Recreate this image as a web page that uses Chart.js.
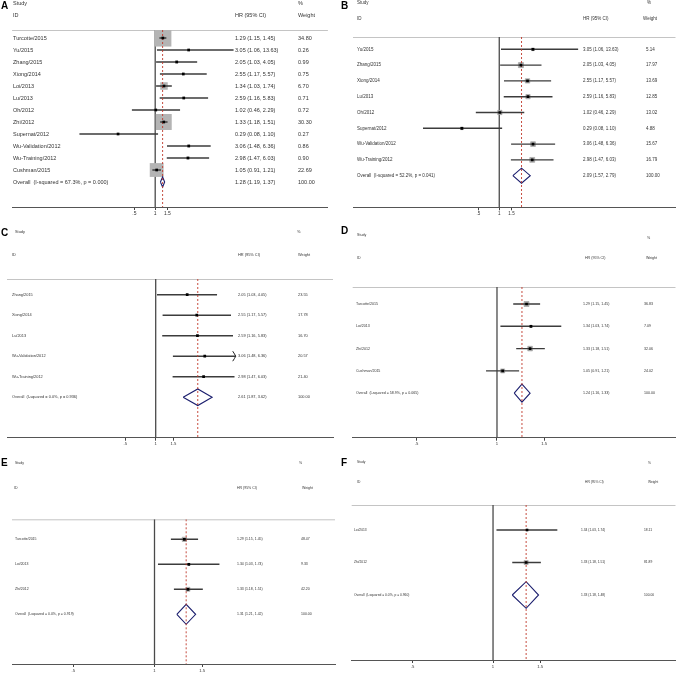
<!DOCTYPE html>
<html><head><meta charset="utf-8">
<script src="https://cdn.jsdelivr.net/npm/chart.js@4.4.1/dist/chart.umd.min.js"></script>
<style>
html,body{margin:0;padding:0;background:#fff;}
#wrap{position:relative;width:680px;height:675px;overflow:hidden;background:#fff;}
canvas{position:absolute;}
</style></head><body><div id="wrap"></div>
<script>
// ---------- DATA ----------
const tickValues = [0.5, 1, 1.5];
const tickLabels = ['.5', '1', '1.5'];

const studiesA = ['Turcotte/2015','Yu/2015','Zhang/2015','Xiong/2014','Loi/2013','Lu/2013','Oh/2012','Zhi/2012','Supernat/2012','Wu-Validation/2012','Wu-Training/2012','Cushman/2015'];
const hrA = [1.29, 3.05, 2.05, 2.55, 1.34, 2.59, 1.02, 1.33, 0.29, 3.06, 2.98, 1.05];
const loA = [1.15, 1.06, 1.03, 1.17, 1.03, 1.16, 0.46, 1.18, 0.08, 1.48, 1.47, 0.91];
const hiA = [1.45, 13.63, 4.05, 5.57, 1.74, 5.83, 2.29, 1.51, 1.10, 6.36, 6.03, 1.21];
const wtA = [34.80, 0.26, 0.99, 0.75, 6.70, 0.71, 0.72, 30.30, 0.27, 0.86, 0.90, 22.69];
const overallA = [1.28, 1.19, 1.37];
const hetA = 'I-squared = 67.3%, p = 0.000';

const studiesB = ['Yu/2015','Zhang/2015','Xiong/2014','Lu/2013','Oh/2012','Supernat/2012','Wu-Validation/2012','Wu-Training/2012'];
const hrB = [3.05, 2.05, 2.55, 2.59, 1.02, 0.29, 3.06, 2.98];
const loB = [1.06, 1.03, 1.17, 1.16, 0.46, 0.08, 1.48, 1.47];
const hiB = [13.63, 4.05, 5.57, 5.83, 2.29, 1.10, 6.36, 6.03];
const wtB = [5.14, 17.97, 13.69, 12.85, 13.02, 4.88, 15.67, 16.79];
const overallB = [2.09, 1.57, 2.79];
const hetB = 'I-squared = 52.2%, p = 0.041';

const studiesC = ['Zhang/2015','Xiong/2014','Lu/2013','Wu-Validation/2012','Wu-Training/2012'];
const hrC = [2.05, 2.55, 2.59, 3.06, 2.98];
const loC = [1.03, 1.17, 1.16, 1.48, 1.47];
const hiC = [4.05, 5.57, 5.83, 6.36, 6.03];
const wtC = [23.55, 17.78, 16.70, 20.57, 21.40];
const overallC = [2.61, 1.87, 3.62];
const hetC = 'I-squared = 0.0%, p = 0.936';

const studiesD = ['Turcotte/2015','Loi/2013','Zhi/2012','Cushman/2015'];
const hrD = [1.29, 1.34, 1.33, 1.05];
const loD = [1.15, 1.03, 1.18, 0.91];
const hiD = [1.45, 1.74, 1.51, 1.21];
const wtD = [36.83, 7.09, 32.06, 24.02];
const overallD = [1.24, 1.16, 1.33];
const hetD = 'I-squared = 58.9%, p = 0.065';

const studiesE = ['Turcotte/2015','Loi/2013','Zhi/2012'];
const hrE = [1.29, 1.34, 1.33];
const loE = [1.15, 1.03, 1.18];
const hiE = [1.45, 1.74, 1.51];
const wtE = [48.47, 9.33, 42.20];
const overallE = [1.31, 1.21, 1.42];
const hetE = 'I-squared = 0.0%, p = 0.919';

const studiesF = ['Loi/2013','Zhi/2012'];
const hrF = [1.34, 1.33];
const loF = [1.03, 1.18];
const hiF = [1.74, 1.51];
const wtF = [18.11, 81.89];
const overallF = [1.33, 1.18, 1.48];
const hetF = 'I-squared = 0.0%, p = 0.960';

// ---------- LAYOUT ----------
const FAM = '"Liberation Sans", Arial, sans-serif';
const AXIS_H = 10;
const panels = [
 {letter:'A', d:{studies:studiesA,hr:hrA,lo:loA,hi:hiA,wt:wtA,ov:overallA,het:hetA},
  left:0, top:0, w:340, h:222, area:[10,330,30,207], x1:155, dec:70, row0:38, step:12, dh:5, k:2.9,
  font:5.5, tickFont:5, cols:[13,235,298], hdr:{L:[1,6], study:[13,3], id:[13,15], hr:[235,15], pct:[298,3], wt:[298,15]}},
 {letter:'B', d:{studies:studiesB,hr:hrB,lo:loB,hi:hiB,wt:wtB,ov:overallB,het:hetB},
  left:340, top:0, w:340, h:222, area:[353,680,37,207.3], x1:501.3, dec:70.5, row0:49.3, step:15.8, dh:7.5, k:1.2,
  font:4.5, tickFont:4.5, cols:[357,583,646], hdr:{L:[341,6], study:[357,3], id:[357,19], hr:[583,19], pct:[647,3], wt:[643,19]}},
 {letter:'C', d:{studies:studiesC,hr:hrC,lo:loC,hi:hiC,wt:wtC,ov:overallC,het:hetC},
  left:0, top:222, w:340, h:228, area:[7,333,279,437.7], x1:155.7, dec:101, row0:294.7, step:20.5, dh:8.3, k:0,
  ciMax:6.2, font:3.9, tickFont:4.2, cols:[12,238,298], hdr:{L:[1,233], study:[15,232], id:[12,255], hr:[238,255], pct:[297,232], wt:[298,255]}},
 {letter:'D', d:{studies:studiesD,hr:hrD,lo:loD,hi:hiD,wt:wtD,ov:overallD,het:hetD},
  left:340, top:222, w:340, h:228, area:[352.7,680,287,437.7], x1:499, dec:271, row0:304, step:22.3, dh:9, k:0.82,
  font:3.6, tickFont:4.2, cols:[356,583,644], hdr:{L:[341,231], study:[357,235], id:[357,258], hr:[585,258], pct:[647,238], wt:[646,258]}},
 {letter:'E', d:{studies:studiesE,hr:hrE,lo:loE,hi:hiE,wt:wtE,ov:overallE,het:hetE},
  left:0, top:450, w:340, h:225, area:[12,335,519.3,664], x1:154.5, dec:270, row0:539.3, step:25, dh:10, k:0.62,
  font:3.5, tickFont:4.2, cols:[15,237,301], hdr:{L:[1,463], study:[15,463], id:[14,488.5], hr:[237,488.5], pct:[299,463], wt:[302,488.5]}},
 {letter:'F', d:{studies:studiesF,hr:hrF,lo:loF,hi:hiF,wt:wtF,ov:overallF,het:hetF},
  left:340, top:450, w:340, h:225, area:[351.7,680,505,660], x1:495, dec:271, row0:530, step:32.5, dh:13.3, k:0.45,
  font:3.3, tickFont:4.2, cols:[354,581,644], hdr:{L:[341,463], study:[357,462], id:[357,482], hr:[585,482], pct:[648,463], wt:[648,482]}}
];

const fmt = v => v.toFixed(2);
const wrap = document.getElementById('wrap');

function makePanel(p) {
  const d = p.d;
  const cv = document.createElement('canvas');
  cv.width = p.w; cv.height = p.h;
  cv.style.left = p.left + 'px'; cv.style.top = p.top + 'px';
  cv.style.width = p.w + 'px'; cv.style.height = p.h + 'px';
  wrap.appendChild(cv);
  const L = p.area[0] - p.left, R = p.area[1] - p.left, T = p.area[2] - p.top, B = p.area[3] - p.top;
  const xmin = Math.pow(10, (p.area[0] - p.x1) / p.dec);
  const xmax = Math.pow(10, (p.area[1] - p.x1) / p.dec);
  const ymin = (p.area[2] - p.row0) / p.step;
  const ymax = (p.area[3] - p.row0) / p.step;
  const n = d.studies.length;
  const ciMax = p.ciMax || Infinity;
  const dh = p.dh / p.step;

  const ci = [];
  d.lo.forEach((v, i) => { ci.push({x: v, y: i}, {x: Math.min(d.hi[i], ciMax), y: i}, {x: d.hi[i], y: null}); });

  const ds = [
    {data: [{x: 1, y: ymin}, {x: 1, y: ymax}], showLine: true, borderColor: '#4a4a4a', borderWidth: 1.3, pointRadius: 0, order: 6},
    {data: d.hr.map((v, i) => ({x: v, y: i})), showLine: false, pointStyle: 'rect',
     pointRadius: c => p.k * Math.sqrt(d.wt[c.dataIndex]) / 1.4142,
     backgroundColor: '#b4b4b4', borderColor: '#8a8a8a', borderWidth: p.k > 1.5 ? 0 : 0.5, order: 5},
    {data: ci, showLine: true, spanGaps: false, borderColor: '#3c3c3c', borderWidth: 1.4, pointRadius: 0, order: 3},
    {data: [{x: d.ov[1], y: n}, {x: d.ov[0], y: n - dh}, {x: d.ov[2], y: n}, {x: d.ov[0], y: n + dh}, {x: d.ov[1], y: n}],
     showLine: true, borderColor: '#1c1f6e', borderWidth: 1.1, pointRadius: 0, fill: false, order: 2},
    {data: [{x: d.ov[0], y: ymin}, {x: d.ov[0], y: ymax}], showLine: true, borderColor: '#c0392b', borderWidth: 0.9,
     borderDash: [2, 2], pointRadius: 0, order: 1},
    {data: d.hr.map((v, i) => ({x: v, y: i})), showLine: false, pointStyle: 'rect', pointRadius: 1.9,
     backgroundColor: '#000', borderWidth: 0, order: 0}
  ];

  const textPlugin = {
    id: 'forestText',
    beforeDatasetsDraw(chart) {
      const ctx = chart.ctx, a = chart.chartArea;
      ctx.save();
      ctx.strokeStyle = '#c4c4c4'; ctx.lineWidth = 1;
      ctx.beginPath(); ctx.moveTo(a.left, a.top + 0.5); ctx.lineTo(a.right, a.top + 0.5); ctx.stroke();
      ctx.restore();
    },
    afterDatasetsDraw(chart) {
      const ctx = chart.ctx, ys = chart.scales.y, xs = chart.scales.x;
      ctx.save();
      ctx.strokeStyle = '#222'; ctx.lineWidth = 1;
      d.hi.forEach((v, i) => {
        if (v > ciMax) {
          const x = xs.getPixelForValue(ciMax), y = ys.getPixelForValue(i);
          ctx.beginPath(); ctx.moveTo(x - 3, y - 5); ctx.quadraticCurveTo(x - 1, y - 2, x, y);
          ctx.quadraticCurveTo(x - 1, y + 2, x - 3, y + 5); ctx.stroke();
        }
      });
      ctx.textBaseline = 'middle'; ctx.textAlign = 'left';
      const ox = p.left, oy = p.top;
      const put = (s, pos, size, bold, color) => {
        ctx.fillStyle = color || '#333';
        ctx.font = (bold ? 'bold ' : '') + size + 'px ' + FAM;
        ctx.fillText(s, pos[0] - ox, pos[1] - oy);
      };
      const hd = p.hdr;
      put(p.letter, hd.L, 10, true, '#000');
      put('Study', hd.study, p.font);
      put('ID', hd.id, p.font);
      put('HR (95% CI)', hd.hr, p.font);
      put('%', hd.pct, p.font);
      put('Weight', hd.wt, p.font);
      for (let i = 0; i <= n; i++) {
        const y = ys.getPixelForValue(i) + oy;
        if (i < n) {
          put(d.studies[i], [p.cols[0], y], p.font);
          put(fmt(d.hr[i]) + ' (' + fmt(d.lo[i]) + ', ' + fmt(d.hi[i]) + ')', [p.cols[1], y], p.font);
          put(fmt(d.wt[i]), [p.cols[2], y], p.font);
        } else {
          put('Overall  (' + d.het + ')', [p.cols[0], y], p.font);
          put(fmt(d.ov[0]) + ' (' + fmt(d.ov[1]) + ', ' + fmt(d.ov[2]) + ')', [p.cols[1], y], p.font);
          put('100.00', [p.cols[2], y], p.font);
        }
      }
      ctx.restore();
    }
  };

  new Chart(cv, {
    type: 'scatter',
    data: {datasets: ds},
    options: {
      responsive: false, animation: false, events: [], devicePixelRatio: 1,
      layout: {padding: {left: L, right: p.w - R, top: T, bottom: Math.max(0, p.h - B - AXIS_H)}},
      plugins: {legend: {display: false}, tooltip: {enabled: false}},
      scales: {
        x: {
          type: 'logarithmic', position: 'bottom', min: xmin, max: xmax,
          afterBuildTicks: s => { s.ticks = tickValues.map(v => ({value: v})); },
          afterFit: s => { s.height = AXIS_H; },
          ticks: {callback: (v, i) => tickLabels[i], font: {size: p.tickFont, family: FAM}, color: '#333',
                  padding: 1, autoSkip: false, maxRotation: 0, minRotation: 0},
          grid: {drawOnChartArea: false, drawTicks: true, tickLength: 3, color: '#444'},
          border: {display: true, color: '#555', width: 1}
        },
        y: {type: 'linear', reverse: true, min: ymin, max: ymax, display: false}
      }
    },
    plugins: [textPlugin]
  });
}

panels.forEach(makePanel);
</script>
</body></html>
